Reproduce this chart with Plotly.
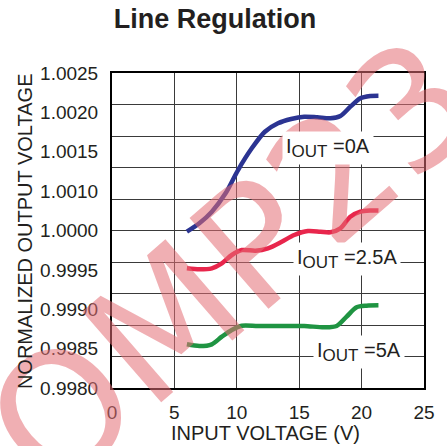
import plotly.graph_objects as go

# ---------------- data ----------------
x_0a = [6.0, 7.0, 8.0, 9.1, 10.1, 11.2, 12.25, 13.3, 14.35, 15.4, 16.45, 17.5, 18.3, 19.1, 19.9, 20.7, 21.35]
y_0a = [1.000233, 1.000353, 1.000519, 1.000781, 1.001114, 1.001424, 1.001661, 1.001781, 1.001843,
        1.001876, 1.001867, 1.001853, 1.001886, 1.002019, 1.002139, 1.002171, 1.002176]

x_25a = [6.0, 7.0, 8.0, 8.8, 9.6, 10.4, 11.5, 12.5, 13.6, 14.6, 15.7, 16.7, 17.5, 18.3, 19.1, 19.9, 20.7, 21.35]
y_25a = [0.999710, 0.999696, 0.999710, 0.999781, 0.999900, 0.999971, 0.999961, 0.999996, 1.000090,
         1.000186, 1.000243, 1.000233, 1.000224, 1.000281, 1.000447, 1.000519, 1.000536, 1.000536]

x_5a = [6.0, 7.0, 8.0, 8.8, 9.6, 10.4, 11.7, 13.55, 15.4, 17.0, 18.0, 18.8, 19.6, 20.4, 21.35]
y_5a = [0.998624, 0.998600, 0.998624, 0.998733, 0.998829, 0.998890, 0.998886, 0.998886, 0.998886,
        0.998867, 0.998886, 0.999019, 0.999153, 0.999176, 0.999181]

y_tick_text = ["0.9980", "0.9985", "0.9990", "0.9995", "1.0000", "1.0010", "1.0015", "1.0020", "1.0025"]
x_tick_vals = [0, 5, 10, 15, 20, 25]

series_currents = ["0A", "2.5A", "5A"]
colors = ["#2B3492", "#E8264C", "#1F9442"]

watermark_text = "OMP23"

Y_MIN, Y_MAX = 0.9980, 1.0025
y_tick_vals = [Y_MIN + k * (Y_MAX - Y_MIN) / 8 for k in range(9)]

FONT = "Liberation Sans, Arial, sans-serif"
TXT = "#231F20"

fig = go.Figure()
for xs, ys, c in [(x_0a, y_0a, colors[0]), (x_25a, y_25a, colors[1]), (x_5a, y_5a, colors[2])]:
    fig.add_trace(go.Scatter(x=xs, y=ys, mode="lines",
                             line=dict(color=c, width=4.5, shape="spline", smoothing=0.8),
                             showlegend=False, hoverinfo="skip"))

# watermark (drawn first so chart labels stay on top)
fig.add_annotation(x=(235 - 112) / 316, y=(388 - 264) / 315, xref="paper", yref="paper",
                   text=watermark_text, showarrow=False, textangle=-41,
                   xanchor="center", yanchor="middle",
                   font=dict(family="DejaVu Sans", size=165, color="rgba(228,110,116,0.55)"))

label_pos = [(13.6, 1.001429), (14.5, 0.999843), (16.1, 0.998521)]
for (lx, ly), cur in zip(label_pos, series_currents):
    txt = 'I<sub><span style="font-size:17px">OUT</span></sub> =' + cur
    fig.add_annotation(x=lx, y=ly, xref="x", yref="y", text=txt, showarrow=False,
                       xanchor="left", yanchor="middle", bgcolor="white", borderpad=3,
                       font=dict(family=FONT, size=20, color=TXT))

fig.update_layout(
    width=447, height=446,
    margin=dict(l=112, r=19, t=73, b=58),
    paper_bgcolor="white", plot_bgcolor="white",
    font=dict(family=FONT, color=TXT),
    title=dict(text="<b>Line Regulation</b>", x=0.481, xanchor="center",
               y=1 - 19 / 446, yanchor="middle",
               font=dict(family=FONT, size=27, color=TXT)),
)

fig.update_xaxes(range=[0, 25], tickvals=x_tick_vals, ticks="", ticklabelstandoff=6,
                 showgrid=True, gridcolor="#3a3a3a", gridwidth=1,
                 showline=True, linecolor="black", linewidth=2, mirror=True,
                 zeroline=False, tickfont=dict(family=FONT, size=19, color=TXT))
fig.update_yaxes(range=[Y_MIN, Y_MAX], tickvals=y_tick_vals, ticktext=y_tick_text, ticks="",
                 ticklabelstandoff=8, showgrid=False,
                 minor=dict(tick0=Y_MIN, dtick=(Y_MAX - Y_MIN) / 10, showgrid=True,
                            gridcolor="#3a3a3a", gridwidth=1, ticks=""),
                 showline=True, linecolor="black", linewidth=2, mirror=True,
                 zeroline=False, tickfont=dict(family=FONT, size=19, color=TXT))

fig.add_annotation(x=(267.5 - 112) / 316, y=(388 - 433) / 315, xref="paper", yref="paper",
                   text="INPUT VOLTAGE (V)", showarrow=False, xanchor="center", yanchor="middle",
                   font=dict(family=FONT, size=20, color=TXT))
fig.add_annotation(x=(24 - 112) / 316, y=(388 - 231) / 315, xref="paper", yref="paper",
                   text="NORMALIZED OUTPUT VOLTAGE", showarrow=False, textangle=-90,
                   xanchor="center", yanchor="middle",
                   font=dict(family=FONT, size=20, color=TXT))

fig.write_html("out.html", config={"displayModeBar": False},
               post_script="document.body.style.margin='0';")
